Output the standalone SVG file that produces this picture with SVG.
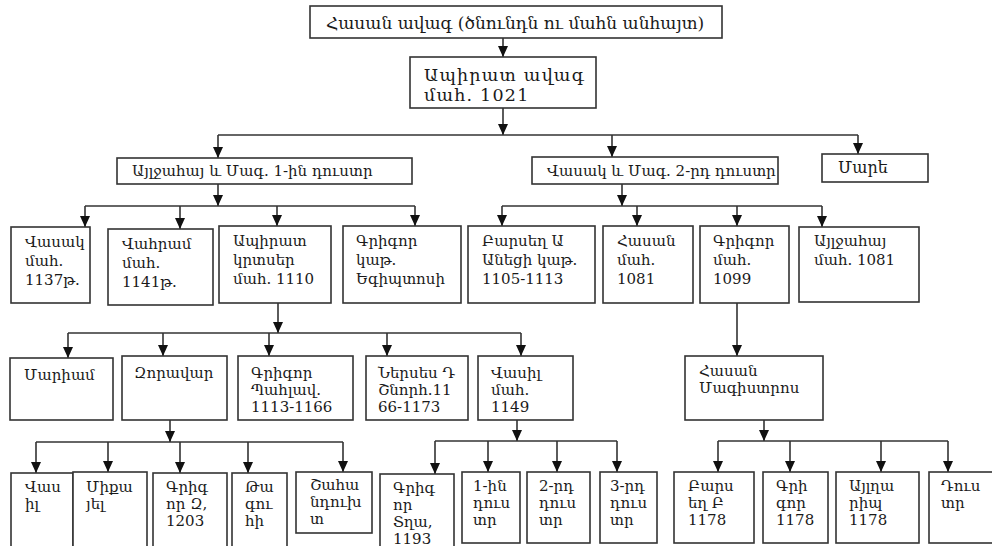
<svg xmlns="http://www.w3.org/2000/svg" width="992" height="546" viewBox="0 0 992 546">
<defs>
<marker id="ah" markerUnits="userSpaceOnUse" markerWidth="12" markerHeight="10" refX="11" refY="5" orient="auto">
<path d="M0,0 L11,5 L0,10 Z" fill="#111"/>
</marker>
<style>
rect{fill:#fff;stroke:#333;stroke-width:1.6}
text{font-family:"DejaVu Serif","Noto Sans",serif;font-size:15px;fill:#1a1a1a}
.big{font-size:17px}
.big2{font-size:17.5px;letter-spacing:1.2px}
.c path{fill:none;stroke:#333;stroke-width:1.6}
.a{marker-end:url(#ah)}
</style>
</defs>
<rect x="0" y="0" width="992" height="546" style="fill:#fff;stroke:none"/>
<g class="c" id="connectors">
<path class="a" d="M503,38 V57"/>
<path class="a" d="M503,108 V135"/>
<path d="M218,135 H858"/>
<path class="a" d="M218,135 V158"/>
<path class="a" d="M612,135 V157"/>
<path class="a" d="M858,135 V154"/>
<path class="a" d="M218,184 V206"/>
<path d="M85,206 H415"/>
<path class="a" d="M85,206 V227"/>
<path class="a" d="M180,206 V229"/>
<path class="a" d="M277,206 V226"/>
<path class="a" d="M415,206 V226"/>
<path class="a" d="M622,184 V206"/>
<path d="M502,206 H822"/>
<path class="a" d="M502,206 V226"/>
<path class="a" d="M637,206 V226"/>
<path class="a" d="M737,206 V226"/>
<path class="a" d="M822,206 V227"/>
<path class="a" d="M278,303 V333"/>
<path d="M68,333 H521"/>
<path class="a" d="M68,333 V358"/>
<path class="a" d="M163,333 V356"/>
<path class="a" d="M269,333 V356"/>
<path class="a" d="M387,333 V356"/>
<path class="a" d="M521,333 V356"/>
<path class="a" d="M737,303 V356"/>
<path class="a" d="M170,420 V442"/>
<path d="M36,442 H343"/>
<path class="a" d="M36,442 V473"/>
<path class="a" d="M108,442 V472"/>
<path class="a" d="M180,442 V473"/>
<path class="a" d="M248,442 V473"/>
<path class="a" d="M343,442 V472"/>
<path class="a" d="M517,420 V441"/>
<path d="M435,441 H617"/>
<path class="a" d="M435,441 V474"/>
<path class="a" d="M488,441 V472"/>
<path class="a" d="M557,441 V472"/>
<path class="a" d="M617,441 V472"/>
<path class="a" d="M764,420 V441"/>
<path d="M718,441 H948"/>
<path class="a" d="M718,441 V472"/>
<path class="a" d="M790,441 V472"/>
<path class="a" d="M881,441 V472"/>
<path class="a" d="M948,441 V472"/>
</g>
<g id="n_hasan_avag"><rect x="310" y="6" width="412" height="32"/><text class="big" x="326" y="29">Հասան ավագ (ծնունդն ու մահն անհայտ)</text></g>
<g id="n_apirat_avag"><rect x="410" y="57" width="186" height="51"/><text class="big2" x="424" y="81">Ապիրատ ավագ</text><text class="big2" x="424" y="101">մահ. 1021</text></g>
<g id="n_ayljahay_mag"><rect x="117" y="158" width="295" height="26"/><text x="132" y="176">Այլջահայ և Մագ. 1-ին դուստր</text></g>
<g id="n_vasak_mag"><rect x="532" y="157" width="246" height="27"/><text x="547" y="176">Վասակ և Մագ. 2-րդ դուստր</text></g>
<g id="n_mare"><rect x="822" y="154" width="106" height="28"/><text x="838" y="173" style="font-size:16px">Մարե</text></g>
<g id="n_vasak"><rect x="11" y="227" width="79" height="76"/><text x="25" y="247">Վասակ</text><text x="25" y="266">մահ.</text><text x="25" y="285">1137թ.</text></g>
<g id="n_vahram"><rect x="108" y="229" width="105" height="76"/><text x="122" y="249">Վահրամ</text><text x="122" y="268">մահ.</text><text x="122" y="287">1141թ.</text></g>
<g id="n_apirat_krtser"><rect x="219" y="226" width="112" height="77"/><text x="233" y="246">Ապիրատ</text><text x="233" y="265">կրտսեր</text><text x="233" y="284">մահ. 1110</text></g>
<g id="n_grigor_kat"><rect x="343" y="226" width="118" height="77"/><text x="356" y="246">Գրիգոր</text><text x="356" y="265">կաթ.</text><text x="356" y="284">Եգիպտոսի</text></g>
<g id="n_barsegh_a"><rect x="468" y="226" width="127" height="77"/><text x="482" y="246">Բարսեղ Ա</text><text x="482" y="265">Անեցի կաթ.</text><text x="482" y="284">1105-1113</text></g>
<g id="n_hasan_1081"><rect x="603" y="226" width="90" height="77"/><text x="617" y="246">Հասան</text><text x="617" y="265">մահ.</text><text x="617" y="284">1081</text></g>
<g id="n_grigor_1099"><rect x="700" y="226" width="89" height="77"/><text x="713" y="246">Գրիգոր</text><text x="713" y="265">մահ.</text><text x="713" y="284">1099</text></g>
<g id="n_ayljahay_1081"><rect x="799" y="227" width="120" height="75"/><text x="814" y="246">Այլջահայ</text><text x="814" y="265">մահ. 1081</text></g>
<g id="n_mariam"><rect x="10" y="358" width="103" height="62"/><text x="24" y="380">Մարիամ</text></g>
<g id="n_zoravar"><rect x="122" y="356" width="105" height="64"/><text x="134" y="378">Զորավար</text></g>
<g id="n_grigor_pahl"><rect x="238" y="356" width="115" height="64"/><text x="251" y="378">Գրիգոր</text><text x="251" y="395">Պահլավ.</text><text x="251" y="412">1113-1166</text></g>
<g id="n_nerses"><rect x="366" y="356" width="102" height="64"/><text x="378" y="378">Ներսես Դ</text><text x="378" y="395">Շնորհ.11</text><text x="378" y="412">66-1173</text></g>
<g id="n_vasil"><rect x="478" y="356" width="95" height="64"/><text x="491" y="378">Վասիլ</text><text x="491" y="395">մահ.</text><text x="491" y="412">1149</text></g>
<g id="n_hasan_mag"><rect x="685" y="356" width="138" height="64"/><text x="699" y="376">Հասան</text><text x="699" y="393">Մագիստրոս</text></g>
<g id="n_vasil2"><rect x="11" y="473" width="62" height="80"/><text x="25" y="492">Վաս</text><text x="25" y="509">իլ</text></g>
<g id="n_mikayel"><rect x="73" y="472" width="74" height="80"/><text x="86" y="492">Միքա</text><text x="86" y="509">յել</text></g>
<g id="n_grigor_z"><rect x="153" y="473" width="74" height="80"/><text x="166" y="492">Գրիգ</text><text x="166" y="509">որ Զ,</text><text x="166" y="526">1203</text></g>
<g id="n_tagui"><rect x="232" y="473" width="55" height="80"/><text x="245" y="492">Թա</text><text x="245" y="509">գու</text><text x="245" y="526">հի</text></g>
<g id="n_shahandukht"><rect x="296" y="472" width="76" height="61"/><text x="310" y="490">Շահա</text><text x="310" y="507">նդուխ</text><text x="310" y="524">տ</text></g>
<g id="n_grigor_tgha"><rect x="380" y="474" width="74" height="80"/><text x="393" y="493">Գրիգ</text><text x="393" y="510">որ</text><text x="393" y="527">Տղա,</text><text x="393" y="544">1193</text></g>
<g id="n_dustr1"><rect x="462" y="472" width="58" height="71"/><text x="473" y="491">1-ին</text><text x="473" y="508">դուս</text><text x="473" y="525">տր</text></g>
<g id="n_dustr2"><rect x="527" y="472" width="63" height="71"/><text x="539" y="491">2-րդ</text><text x="539" y="508">դուս</text><text x="539" y="525">տր</text></g>
<g id="n_dustr3"><rect x="600" y="472" width="57" height="71"/><text x="610" y="491">3-րդ</text><text x="610" y="508">դուս</text><text x="610" y="525">տր</text></g>
<g id="n_barsegh_b"><rect x="674" y="472" width="80" height="71"/><text x="688" y="491">Բարս</text><text x="688" y="508">եղ Բ</text><text x="688" y="525">1178</text></g>
<g id="n_grigor_1178"><rect x="763" y="472" width="65" height="71"/><text x="776" y="491">Գրի</text><text x="776" y="508">գոր</text><text x="776" y="525">1178</text></g>
<g id="n_aylgharip"><rect x="836" y="472" width="83" height="71"/><text x="849" y="491">Այլղա</text><text x="849" y="508">րիպ</text><text x="849" y="525">1178</text></g>
<g id="n_dustr"><rect x="929" y="472" width="70" height="71"/><text x="941" y="491">Դուս</text><text x="941" y="508">տր</text></g>
</svg>
